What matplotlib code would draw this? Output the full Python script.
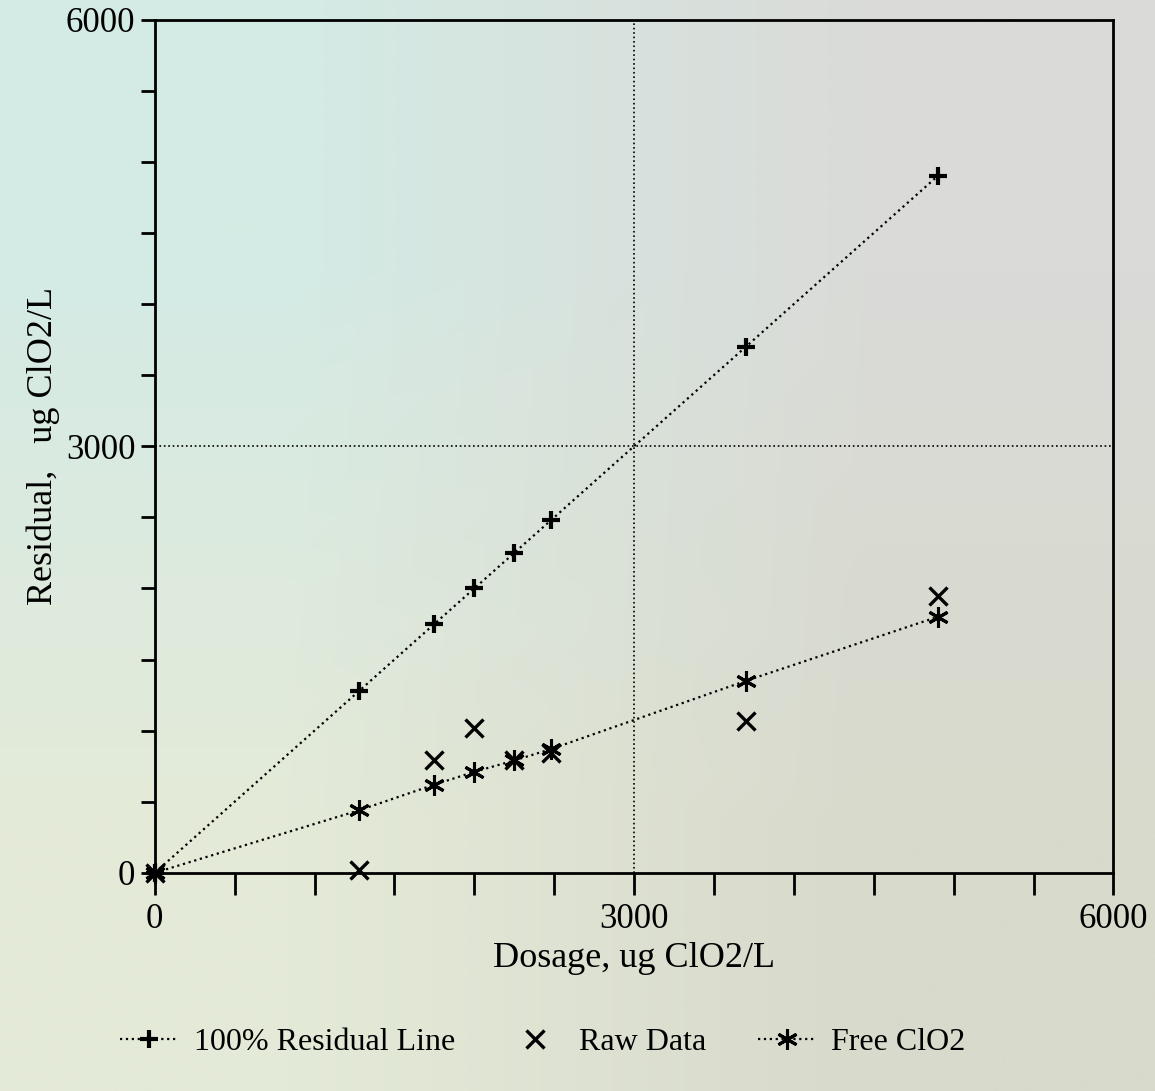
import matplotlib
matplotlib.use("Agg")
import matplotlib.pyplot as plt
import numpy as np
from matplotlib.colors import to_rgb
from matplotlib.ticker import MultipleLocator, FixedLocator

# Data
dosage = [0, 1280, 1750, 2000, 2250, 2480, 3700, 4900]
residual_100 = [0, 1280, 1750, 2000, 2250, 2480, 3700, 4900]
raw_data = [0, 20, 790, 1020, 790, 840, 1070, 1950]
free_clo2 = [0, 440, 620, 710, 790, 870, 1350, 1800]

x_major = [0, 3000, 6000]
y_major = [0, 3000, 6000]

plt.rcParams['font.family'] = ['Liberation Serif', 'DejaVu Serif']

fig = plt.figure(figsize=(11.55, 10.91), dpi=100)

# subtle paper/photo tint background
bg = fig.add_axes([0, 0, 1, 1], zorder=-10)
corners = np.array([[to_rgb('#d4ebe5'), to_rgb('#dadbd8')],
                    [to_rgb('#e4ead8'), to_rgb('#d8dacc')]])
bg.imshow(corners, interpolation='bilinear', aspect='auto', extent=[0, 1, 0, 1])
bg.set_axis_off()

ax = fig.add_axes([0.134, 0.2, 0.830, 0.782])
ax.set_facecolor('none')

ax.plot(dosage, residual_100, linestyle=':', color='black', linewidth=1.6,
        marker='+', markersize=13, markeredgewidth=3, label='100% Residual Line',
        clip_on=False, zorder=3)
ax.plot(dosage, raw_data, linestyle='none', color='black',
        marker='x', markersize=13, markeredgewidth=2.4, label='Raw Data',
        clip_on=False, zorder=3)
ax.plot(dosage, free_clo2, linestyle=':', color='black', linewidth=1.6,
        marker=(6, 2, 0), markersize=15, markeredgewidth=2.2, label='Free ClO2',
        clip_on=False, zorder=4)

ax.axvline(3000, linestyle=':', color='black', linewidth=1.2)
ax.axhline(3000, linestyle=':', color='black', linewidth=1.2)

ax.set_xlim(0, 6000)
ax.set_ylim(0, 6000)
ax.xaxis.set_major_locator(FixedLocator(x_major))
ax.yaxis.set_major_locator(FixedLocator(y_major))
ax.xaxis.set_minor_locator(MultipleLocator(500))
ax.yaxis.set_minor_locator(MultipleLocator(500))
ax.tick_params(axis='both', which='both', direction='out', width=2, color='black')
ax.tick_params(axis='x', which='both', length=16, labelsize=25, pad=6)
ax.tick_params(axis='y', which='both', length=10, labelsize=25, pad=4)
for s in ax.spines.values():
    s.set_linewidth(2)

ax.set_xlabel('Dosage, ug ClO2/L', fontsize=26, labelpad=4)
ax.set_ylabel('Residual,   ug ClO2/L', fontsize=26, labelpad=4)

fig.legend(loc='lower center', bbox_to_anchor=(0.47, 0.005), ncol=3, frameon=False,
           fontsize=23, columnspacing=1.6, handlelength=1.8, handletextpad=0.5)

fig.savefig('out.png', dpi=100)
